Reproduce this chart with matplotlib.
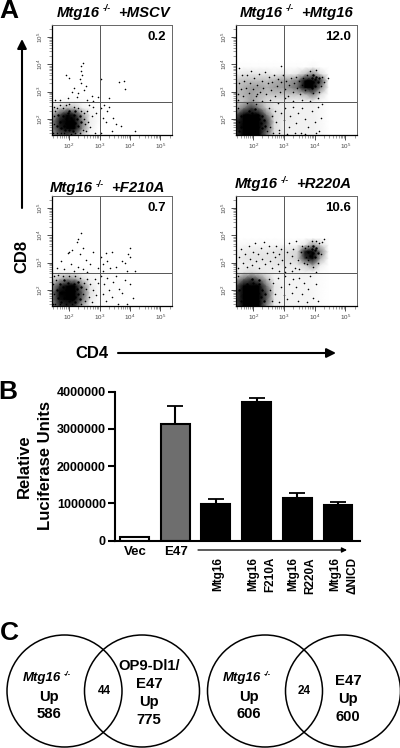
import matplotlib
matplotlib.use('Agg')
from matplotlib import pyplot as plt
from matplotlib.patches import Ellipse

plt.rcParams['font.family'] = ['Liberation Sans', 'DejaVu Sans']

W, H = 400, 748

# flow panels, (log10 CD4, log10 CD8)
mscv_core = [(1.7, 1.9), (1.8, 2.1), (1.85, 1.75), (1.9, 2.0), (1.95, 2.2), (2.0, 1.85), (2.05, 2.05), (2.1, 1.7),
             (2.1, 1.95), (2.15, 2.15), (2.2, 1.85), (2.25, 2.0), (2.3, 1.75), (1.75, 1.65), (2.0, 1.6), (1.65, 2.15),
             (2.35, 2.1), (1.9, 1.85), (2.0, 2.3), (2.2, 2.3), (1.6, 1.75), (2.4, 1.9), (2.12, 1.55), (1.88, 1.58)]
mscv_dots = [(1.48, 1.5), (1.5, 1.8), (1.52, 2.1), (1.55, 2.3), (1.5, 2.45), (1.6, 1.48), (1.62, 2.4), (1.7, 2.5),
             (1.72, 1.5), (1.8, 2.4), (1.85, 1.47), (1.9, 2.5), (2.0, 2.55), (2.05, 1.46), (2.15, 2.45), (2.2, 1.48),
             (2.3, 2.4), (2.35, 1.5), (2.4, 2.3), (2.45, 1.6), (2.5, 2.0), (2.52, 1.8), (2.48, 2.2), (2.55, 1.55),
             (2.6, 2.3), (2.62, 1.9), (2.65, 2.5), (2.7, 1.7), (2.75, 2.1), (2.8, 2.45), (2.85, 1.5), (2.9, 2.2),
             (3.05, 2.4), (3.1, 2.05), (3.15, 2.5), (3.2, 1.9), (3.25, 2.3), (3.3, 2.45), (3.4, 1.55), (3.55, 1.8),
             (3.7, 1.75), (4.15, 1.55), (3.05, 1.5), (3.45, 2.05), (2.4, 3.95), (2.45, 4.05), (2.38, 3.75), (2.42, 3.6),
             (2.35, 3.45), (1.9, 3.6), (2.0, 3.5), (2.4, 3.3), (2.5, 3.05), (2.3, 2.95), (2.1, 3.0), (1.95, 2.75),
             (2.25, 2.8), (2.6, 2.7), (2.75, 2.85), (2.95, 2.8), (3.05, 3.45), (3.3, 2.75), (3.65, 3.35), (3.8, 3.4),
             (3.85, 3.1), (1.7, 2.7), (2.55, 3.2), (2.8, 2.65), (1.55, 2.7), (2.15, 3.15)]

mtg16_core = [(1.7, 2.0), (1.75, 1.8), (1.8, 2.15), (1.85, 1.65), (1.9, 1.95), (1.95, 2.2), (2.0, 1.8), (2.0, 2.05),
              (2.05, 1.6), (2.1, 1.9), (2.15, 2.15), (2.15, 1.72), (2.2, 2.0), (2.25, 1.85), (2.3, 2.1), (2.3, 1.65),
              (1.6, 1.7), (1.6, 2.1), (1.55, 1.55), (1.75, 1.5), (2.0, 1.48), (2.35, 1.95), (2.4, 1.75), (1.85, 2.3),
              (2.05, 2.35), (3.8, 3.4), (3.85, 3.25), (3.9, 3.5), (3.95, 3.35), (3.95, 3.6), (4.0, 3.2), (4.0, 3.45),
              (4.05, 3.55), (4.1, 3.35), (3.9, 3.15), (4.15, 3.5)]
mtg16_dots = [(1.5, 2.9), (1.55, 3.3), (1.6, 3.1), (1.62, 3.6), (1.68, 2.85), (1.7, 3.4), (1.75, 3.15), (1.8, 3.6),
              (1.85, 2.95), (1.9, 3.3), (1.92, 3.75), (1.98, 3.1), (2.02, 3.5), (2.08, 2.85), (2.12, 3.25), (2.18, 3.65),
              (2.22, 3.0), (2.28, 3.4), (2.32, 3.15), (2.38, 3.7), (2.42, 2.9), (2.48, 3.3), (2.52, 3.55), (2.58, 3.05),
              (2.62, 3.35), (2.68, 3.6), (2.72, 2.85), (2.78, 3.2), (2.82, 3.45), (2.88, 3.0), (2.92, 3.35), (2.98, 3.6),
              (3.02, 3.1), (3.08, 3.4), (3.12, 2.85), (3.18, 3.25), (3.22, 3.5), (3.28, 3.0), (3.32, 3.3), (3.38, 3.55),
              (3.42, 3.15), (3.48, 3.4), (3.52, 2.9), (3.58, 3.25), (3.62, 3.5), (3.68, 3.05), (3.72, 3.3), (3.75, 3.6),
              (4.2, 3.2), (4.25, 3.55), (4.3, 3.35), (4.15, 3.0), (3.95, 2.95), (4.05, 3.8), (3.85, 3.75), (4.42, 3.5),
              (1.5, 2.7), (1.8, 2.6), (2.0, 2.7), (2.12, 2.9), (2.1, 2.55), (2.3, 2.65), (2.55, 2.7), (2.8, 2.6),
              (3.05, 2.75), (3.3, 2.65), (3.6, 2.7), (3.85, 2.65), (4.1, 2.75), (2.5, 2.4), (2.6, 2.1), (2.55, 1.7),
              (2.65, 1.5), (2.7, 2.3), (2.75, 1.9), (2.85, 1.6), (2.9, 2.2), (3.0, 1.95), (3.05, 2.4), (3.15, 1.7),
              (3.2, 2.1), (3.3, 2.45), (3.4, 1.85), (3.45, 2.2), (3.55, 1.5), (3.6, 2.4), (3.7, 2.0), (3.8, 1.7),
              (3.9, 2.3), (4.0, 1.9), (4.1, 2.45), (4.15, 1.55), (4.2, 2.05), (4.25, 2.55), (1.55, 3.85), (2.9, 3.95),
              (3.35, 1.47), (3.7, 1.46), (4.05, 1.47), (3.1, 1.46), (2.85, 1.47), (1.5, 2.4), (1.55, 1.9), (2.45, 1.55)]

f210a_core = [(1.75, 1.9), (1.8, 2.1), (1.85, 1.7), (1.9, 2.0), (1.95, 2.25), (2.0, 1.85), (2.05, 2.1), (2.1, 1.65),
              (2.15, 1.95), (2.15, 2.2), (2.2, 1.75), (2.25, 2.05), (2.3, 1.85), (2.3, 2.3), (2.0, 1.6), (1.7, 2.2),
              (2.35, 1.65), (2.05, 1.95), (2.2, 1.55), (1.85, 2.35), (1.65, 1.7), (2.4, 2.1), (1.6, 2.0), (1.75, 1.55)]
f210a_dots = [(1.46, 1.5), (1.5, 1.85), (1.48, 2.2), (1.5, 2.5), (1.55, 1.5), (1.58, 2.35), (1.65, 2.55), (1.7, 1.47),
              (1.8, 2.5), (1.9, 1.48), (2.0, 2.5), (2.1, 1.47), (2.2, 2.5), (2.35, 2.45), (2.4, 1.5), (2.45, 1.85),
              (2.5, 2.25), (2.52, 1.6), (2.55, 2.05), (2.6, 2.4), (2.65, 1.75), (2.7, 2.2), (2.75, 1.55), (2.8, 2.0),
              (2.85, 2.4), (2.9, 1.8), (2.95, 2.25), (3.05, 2.5), (3.1, 1.85), (3.15, 2.2), (3.2, 1.6), (3.25, 2.45),
              (3.3, 2.0), (3.4, 1.75), (3.45, 2.3), (3.55, 2.5), (3.65, 2.05), (3.75, 1.9), (3.85, 2.35), (4.0, 2.2),
              (4.1, 1.7), (3.6, 1.5), (3.9, 1.5), (2.4, 4.1), (2.3, 3.85), (2.25, 3.75), (2.45, 3.55), (2.0, 3.4),
              (1.95, 3.35), (2.1, 3.45), (2.35, 3.3), (1.75, 3.05), (2.05, 2.95), (2.3, 2.85), (2.55, 3.1), (2.7, 2.95),
              (2.95, 2.8), (3.05, 3.2), (3.1, 2.95), (3.2, 3.35), (3.25, 3.05), (3.1, 2.7), (3.35, 2.8), (3.55, 2.85),
              (3.75, 3.05), (3.85, 3.0), (3.95, 3.3), (4.0, 3.55), (4.0, 3.2), (3.9, 2.7), (4.15, 2.7), (1.6, 2.8),
              (1.85, 2.75), (2.15, 2.7), (2.45, 2.75), (2.8, 3.4), (3.4, 3.4), (2.6, 2.65)]

r220a_core = [(1.7, 1.95), (1.75, 1.7), (1.8, 2.2), (1.85, 1.85), (1.9, 2.05), (1.95, 1.65), (2.0, 1.9), (2.0, 2.25),
              (2.05, 1.75), (2.1, 2.05), (2.15, 1.6), (2.15, 1.88), (2.2, 2.2), (2.25, 1.75), (2.3, 2.0), (2.35, 1.6),
              (1.6, 1.6), (1.55, 2.0), (1.85, 1.5), (2.1, 1.5), (2.4, 1.85), (1.95, 2.4), (2.2, 2.35), (3.8, 3.4),
              (3.85, 3.25), (3.9, 3.5), (3.95, 3.35), (3.95, 3.6), (4.0, 3.2), (4.0, 3.45), (4.05, 3.55), (4.1, 3.35)]
r220a_dots = [(1.5, 2.8), (1.55, 3.2), (1.6, 3.5), (1.68, 3.0), (1.72, 3.3), (1.8, 2.85), (1.85, 3.6), (1.9, 3.15),
              (1.95, 2.9), (2.0, 3.4), (2.05, 3.7), (2.1, 3.05), (2.15, 3.3), (2.2, 2.8), (2.25, 3.55), (2.3, 3.15),
              (2.35, 3.75), (2.4, 2.95), (2.45, 3.35), (2.5, 3.6), (2.55, 3.05), (2.6, 2.8), (2.65, 3.4), (2.7, 3.2),
              (2.75, 3.6), (2.8, 2.95), (2.85, 3.3), (2.9, 3.5), (2.95, 3.1), (3.05, 2.85), (3.1, 3.4), (3.15, 3.7),
              (3.2, 3.0), (3.25, 3.25), (3.3, 3.5), (3.35, 2.8), (3.4, 3.8), (3.45, 3.1), (3.55, 3.4), (3.6, 3.6),
              (3.65, 3.0), (3.7, 3.55), (3.72, 3.2), (3.75, 2.95), (4.15, 3.7), (4.2, 3.3), (4.25, 3.75), (4.1, 3.0),
              (3.95, 2.85), (3.9, 3.8), (4.3, 3.85), (4.05, 3.8), (3.8, 3.1), (3.8, 3.6), (1.5, 2.5), (2.5, 2.4),
              (2.55, 2.0), (2.6, 1.6), (2.65, 2.25), (2.7, 1.85), (2.8, 2.45), (2.85, 1.55), (2.9, 2.1), (3.0, 1.8),
              (3.05, 2.5), (3.1, 1.65), (3.15, 2.2), (3.25, 1.9), (3.3, 2.4), (3.4, 2.1), (3.45, 1.6), (3.5, 2.45),
              (3.6, 1.85), (3.65, 2.25), (3.75, 1.55), (3.8, 2.05), (3.85, 2.5), (3.95, 1.7), (4.05, 2.2), (4.1, 1.6),
              (3.05, 2.65), (3.25, 2.7), (3.5, 2.75), (2.85, 2.7), (4.05, 2.65), (3.0, 2.62)]

# how dark each cloud looks, read by eye, bottom row first
grid_x = [1.44, 1.69, 1.94, 2.19, 2.44, 2.69, 2.94, 3.19, 3.44, 3.69, 3.94, 4.19, 4.44]
grid_y = [1.41, 1.66, 1.91, 2.16, 2.41, 2.66, 2.91, 3.16, 3.41, 3.66, 3.91, 4.16]
mscv_shade = [[.45, .6, .65, .55, .25, .05, 0, 0, 0, 0, 0, 0, 0],
              [.45, .75, .9, .85, .45, .1, 0, 0, 0, 0, 0, 0, 0],
              [.45, .8, .95, .9, .5, .12, .03, 0, 0, 0, 0, 0, 0],
              [.35, .65, .85, .75, .4, .1, .03, 0, 0, 0, 0, 0, 0],
              [.15, .25, .35, .3, .12, .04, .02, 0, 0, 0, 0, 0, 0],
              [0, .03, .04, .04, .03, 0, 0, 0, 0, 0, 0, 0, 0]] + [[0] * 13] * 6
mtg16_shade = [[.7, .9, .95, .85, .5, .2, .15, .1, .1, .1, .1, .05, 0],
               [.75, 1, 1, 1, .65, .2, .12, .1, .1, .1, .1, .05, 0],
               [.75, 1, 1, 1, .7, .2, .12, .12, .1, .1, .1, .05, 0],
               [.6, .9, 1, .9, .5, .2, .15, .12, .1, .1, .1, .05, 0],
               [.35, .5, .7, .5, .25, .15, .12, .1, .1, .1, .1, .05, 0],
               [.25, .3, .4, .3, .2, .15, .15, .12, .1, .1, .12, .05, 0],
               [.3, .35, .4, .35, .3, .3, .3, .3, .3, .35, .5, .2, 0],
               [.3, .35, .4, .4, .35, .4, .4, .45, .55, .85, 1, .5, .05],
               [.25, .3, .3, .3, .3, .35, .4, .4, .5, .9, 1, .7, .05],
               [.1, .15, .15, .15, .15, .1, .15, .1, .15, .3, .45, .2, 0],
               [0, .02, .02, .02, .02, .02, .02, .02, .02, 0, .05, 0, 0],
               [0] * 13]
f210a_shade = [[.5, .7, .75, .7, .35, .1, .02, .02, 0, 0, 0, 0, 0],
               [.5, .8, 1, .95, .55, .15, .03, .02, .02, 0, 0, 0, 0],
               [.5, .85, 1, 1, .6, .18, .05, .03, .02, .02, 0, 0, 0],
               [.4, .7, .9, .85, .5, .15, .05, .03, .02, .02, 0, 0, 0],
               [.2, .35, .45, .4, .2, .08, .04, .02, .02, 0, 0, 0, 0],
               [.02, .05, .05, .05, .04, .03, .03, .02, .02, .02, 0, 0, 0]] + [[0] * 13] * 6
r220a_shade = [[.65, .85, .95, .85, .45, .12, .08, .08, .08, .08, .06, .02, 0],
               [.7, 1, 1, .95, .6, .15, .1, .08, .08, .08, .06, .02, 0],
               [.7, 1, 1, 1, .65, .15, .1, .08, .08, .08, .06, .02, 0],
               [.6, .9, 1, .9, .5, .15, .1, .08, .08, .08, .06, .02, 0],
               [.35, .55, .7, .55, .3, .1, .08, .08, .08, .08, .06, .02, 0],
               [.1, .15, .2, .15, .12, .1, .1, .1, .1, .1, .1, .02, 0],
               [.08, .12, .12, .12, .12, .14, .14, .14, .14, .25, .4, .12, 0],
               [.1, .14, .16, .16, .16, .16, .18, .18, .25, .7, 1, .35, .02],
               [.08, .12, .14, .14, .14, .16, .18, .18, .22, .8, 1, .5, .03],
               [.03, .05, .06, .06, .06, .06, .06, .06, .08, .15, .4, .2, .02],
               [0] * 13,
               [0] * 13]

panel_titles = ['+MSCV', '+Mtg16', '+F210A', '+R220A']
panel_pct = ['0.2', '12.0', '0.7', '10.6']
panel_core = [mscv_core, mtg16_core, f210a_core, r220a_core]
panel_dots = [mscv_dots, mtg16_dots, f210a_dots, r220a_dots]
panel_shade = [mscv_shade, mtg16_shade, f210a_shade, r220a_shade]
panel_box = [(52, 25, 172, 135), (236, 25, 357, 135), (52, 196, 172, 306), (236, 196, 357, 306)]
title_y = [12.5, 12.5, 188, 184]
title_x = [57, 240, 50, 235]

# luciferase bars
bar_values = [90000, 3130000, 990000, 3730000, 1140000, 960000]
bar_errors = [0, 490000, 130000, 90000, 130000, 80000]
bar_fills = ['white', '#6e6e6e', 'black', 'black', 'black', 'black']
bar_ticks = [0, 1000000, 2000000, 3000000, 4000000]

# venn counts
venn_left = [['Up', '586'], ['Up', '606']]
venn_shared = ['44', '24']


def px_axes(l, t, r, b):
    return fig.add_axes([l / W, 1 - b / H, (r - l) / W, (b - t) / H])


def arrow(x0, y0, x1, y1, lw, size):
    ov.annotate('', xy=(x1, y1), xytext=(x0, y0),
                arrowprops=dict(arrowstyle='-|>,head_width={},head_length={}'.format(size * 0.5, size),
                                lw=lw, color='black', shrinkA=0, shrinkB=0))


def mtg_label(x, y, size):
    # name and superscript go in separately, mathtext makes the -/- too wide
    ov.text(x, y, 'Mtg16', ha='left', va='center', fontsize=size, fontweight='bold', fontstyle='italic')
    ov.text(x + size * 4.3, y - size * 0.35, '-/-', ha='left', va='center', fontsize=size * 0.58,
            fontweight='bold', fontstyle='italic')


fig = plt.figure(figsize=(W / 100, H / 100), dpi=100)

for i in range(4):
    ax = px_axes(*panel_box[i])
    ax.set_xscale('log')
    ax.set_yscale('log')
    ax.pcolormesh([10 ** v for v in grid_x], [10 ** v for v in grid_y], panel_shade[i], shading='gouraud',
                  cmap='Greys', vmin=0, vmax=0.85)
    ax.set_xlim(10 ** 1.44, 10 ** 5.38)
    ax.set_ylim(10 ** 1.41, 10 ** 5.44)
    ax.scatter([10 ** p[0] for p in panel_dots[i]], [10 ** p[1] for p in panel_dots[i]], s=1.3, c='black', lw=0)
    ax.scatter([10 ** p[0] for p in panel_core[i]], [10 ** p[1] for p in panel_core[i]], s=3, c='black', lw=0)
    ax.axvline(10 ** 3, color='#555555', lw=0.7)
    ax.axhline(10 ** 2.62, color='#555555', lw=0.7)
    ax.set_xticks([100, 1000, 10000, 100000])
    ax.set_yticks([100, 1000, 10000, 100000])
    ax.tick_params(which='major', length=3.5, width=0.6, labelsize=4.5, pad=1.5, color='#333333', labelcolor='#444444')
    ax.tick_params(which='minor', length=2, width=0.4, color='#555555')
    for lab in ax.get_yticklabels():
        lab.set_rotation(90)
        lab.set_va('center')
    for side in ['top', 'right']:
        ax.spines[side].set_color('#666666')
        ax.spines[side].set_linewidth(0.7)
    for side in ['left', 'bottom']:
        ax.spines[side].set_linewidth(0.9)
    ax.text(0.95, 0.89, panel_pct[i], transform=ax.transAxes, ha='right', va='center', fontsize=9.5, fontweight='bold')

# bar chart
bx = px_axes(115, 391.7, 360, 540.7)
bx.bar(range(6), bar_values, width=0.71, color=bar_fills, edgecolor='black', lw=1.5)
bx.errorbar([1, 2, 3, 4, 5], bar_values[1:],
            yerr=[[0] * 5, bar_errors[1:]], fmt='none', ecolor='black', elinewidth=1.5, capsize=5.5, capthick=1.3)
bx.set_xlim(-0.48, 5.54)
bx.set_ylim(0, 4000000)
bx.set_yticks(bar_ticks)
bx.set_yticklabels([str(v) for v in bar_ticks], fontsize=9, fontweight='bold')
bx.set_xticks([])
bx.tick_params(axis='y', length=5, width=1.5, pad=1.5)
for side in ['top', 'right']:
    bx.spines[side].set_visible(False)
for side in ['left', 'bottom']:
    bx.spines[side].set_linewidth(1.5)

# overlay in picture pixels for labels, arrows and the venn circles
ov = fig.add_axes([0, 0, 1, 1])
ov.set_xlim(0, W)
ov.set_ylim(H, 0)
ov.axis('off')
ov.patch.set_alpha(0)

for i in range(4):
    mtg_label(title_x[i], title_y[i], 10.7)
    ov.text(title_x[i] + 61, title_y[i], panel_titles[i], ha='left', va='center', fontsize=10.7,
            fontweight='bold', fontstyle='italic')

ov.text(9, 11, 'A', fontsize=19, fontweight='bold', ha='center', va='center')
ov.text(8, 392, 'B', fontsize=19, fontweight='bold', ha='center', va='center')
ov.text(9, 633, 'C', fontsize=19, fontweight='bold', ha='center', va='center')

arrow(22, 208, 22, 39, 1.5, 0.55)
arrow(118, 353, 336, 353, 1.5, 0.55)
ov.text(22, 256, 'CD8', rotation=90, ha='center', va='center', fontsize=12, fontweight='bold')
ov.text(92, 353, 'CD4', ha='center', va='center', fontsize=12, fontweight='bold')

ov.text(24, 466, 'Relative', rotation=90, ha='center', va='center', fontsize=12, fontweight='bold')
ov.text(45, 466, 'Luciferase Units', rotation=90, ha='center', va='center', fontsize=12, fontweight='bold')

ov.text(135, 552, 'Vec', ha='center', va='center', fontsize=9.5, fontweight='bold')
ov.text(176, 552, 'E47', ha='center', va='center', fontsize=9.5, fontweight='bold')
arrow(198, 550, 347, 550, 0.9, 0.3)
for x, s in [(218, 'Mtg16'), (253, 'Mtg16'), (270, 'F210A'), (293, 'Mtg16'), (310, 'R220A'), (335, 'Mtg16'), (353, '\u0394NICD')]:
    ov.text(x, 557, s, rotation=90, ha='center', va='top', fontsize=8.5, fontweight='bold')

for cx in [64.5, 142, 265, 343]:
    ov.add_patch(Ellipse((cx, 691), 115, 112, fill=False, ec='black', lw=1.1))

for cx, k in [(23, 0), (223, 1)]:
    mtg_label(cx, 678, 9.5)
    ov.text(cx + 26, 697, venn_left[k][0], ha='center', va='center', fontsize=10.7, fontweight='bold')
    ov.text(cx + 26, 714, venn_left[k][1], ha='center', va='center', fontsize=10.7, fontweight='bold')
ov.text(104, 691, venn_shared[0], ha='center', va='center', fontsize=8.5, fontweight='bold')
ov.text(304, 691, venn_shared[1], ha='center', va='center', fontsize=8.5, fontweight='bold')
for y, s in [(666, 'OP9-Dl1/'), (684, 'E47'), (702, 'Up'), (720, '775')]:
    ov.text(149, y, s, ha='center', va='center', fontsize=10.7, fontweight='bold')
for y, s in [(681, 'E47'), (699, 'Up'), (717, '600')]:
    ov.text(348, y, s, ha='center', va='center', fontsize=10.7, fontweight='bold')

fig.savefig('out.png', dpi=100)
